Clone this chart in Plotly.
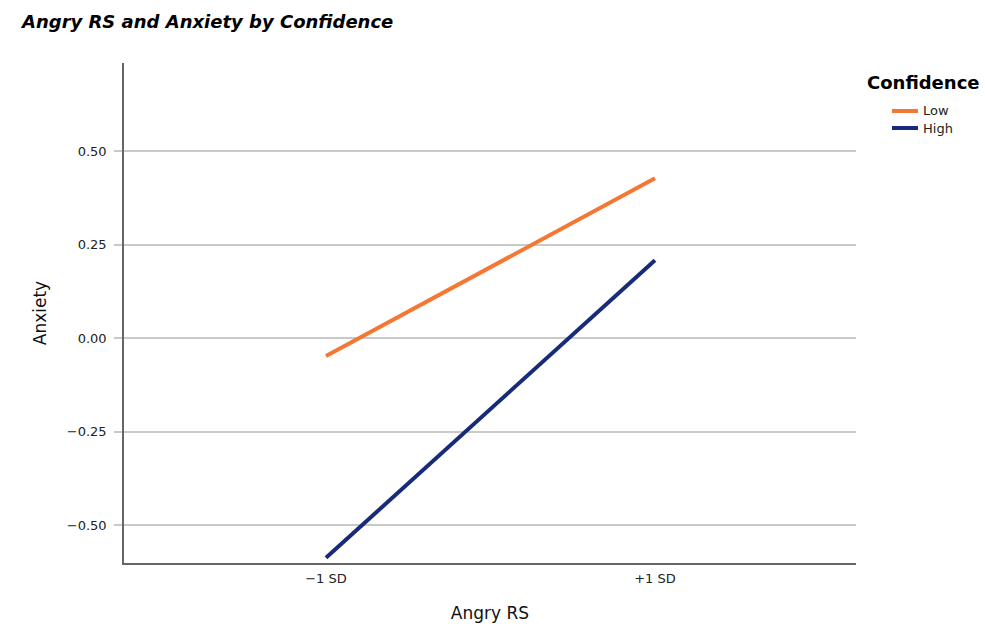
import plotly.graph_objects as go

# Simple slopes: Anxiety at low/high Angry RS for each Confidence group
x_positions = [0, 1]
x_labels = ["\u22121 SD", "+1 SD"]
groups = ["Low", "High"]
low_conf = [-0.048, 0.427]
high_conf = [-0.587, 0.208]
colors = {"Low": "#F47733", "High": "#172B78"}
y_ticks = [-0.50, -0.25, 0.00, 0.25, 0.50]

FONT = "DejaVu Sans"
W, H = 985, 627
L, R, T, B = 124, 129, 63, 64
PW, PH = W - L - R, H - T - B


def px_x(px):
    return (px - L) / PW


def px_y(py):
    return (H - B - py) / PH


fig = go.Figure()
for name, vals in zip(groups, [low_conf, high_conf]):
    fig.add_trace(go.Scatter(
        x=x_positions, y=vals, mode="lines", name=name,
        line=dict(color=colors[name], width=4),
        showlegend=False,
    ))

# Legend block: title plus one short line swatch and label per group
annotations = [dict(
    text="<b>Confidence</b>", showarrow=False,
    x=px_x(865), y=px_y(82), xref="paper", yref="paper",
    xanchor="left", yanchor="middle",
    font=dict(family=FONT, size=18, color="#000000"),
)]
shapes = []
for i, name in enumerate(groups):
    yc = px_y(111 + 17 * i)
    shapes.append(dict(
        type="line", xref="paper", yref="paper",
        x0=px_x(892), x1=px_x(918), y0=yc, y1=yc,
        line=dict(color=colors[name], width=4),
    ))
    annotations.append(dict(
        text=name, showarrow=False,
        x=px_x(921), y=yc, xref="paper", yref="paper",
        xanchor="left", yanchor="middle",
        font=dict(family=FONT, size=13, color="#222222"),
    ))

fig.update_layout(
    width=W, height=H,
    margin=dict(l=L, r=R, t=T, b=B),
    paper_bgcolor="white", plot_bgcolor="white",
    font=dict(family=FONT, color="#222222", size=13),
    title=dict(
        text="<b><i>Angry RS and Anxiety by Confidence</i></b>",
        x=22 / W, xanchor="left", y=1 - 22 / H, yanchor="middle",
        font=dict(family=FONT, size=18, color="#000000"),
    ),
    showlegend=False,
    annotations=annotations,
    shapes=shapes,
)

fig.update_xaxes(
    range=[-0.614, 1.611], automargin=False,
    tickvals=x_positions, ticktext=x_labels,
    showgrid=False, zeroline=False,
    showline=True, linecolor="#666666", linewidth=1.5,
    ticks="", ticklabelstandoff=3,
    tickfont=dict(size=13, color="#222222"),
    title=dict(text="Angry RS", font=dict(size=17, color="#111111"), standoff=22),
)
fig.update_yaxes(
    range=[-0.601, 0.735], automargin=False,
    tickvals=y_ticks, tickformat=".2f",
    showgrid=True, gridcolor="#C9C9C9", gridwidth=1.5,
    zeroline=False,
    showline=True, linecolor="#666666", linewidth=1.5,
    ticks="outside", ticklen=8, tickcolor="#C9C9C9", tickwidth=1.5,
    ticklabelstandoff=5,
    tickfont=dict(size=13, color="#222222"),
    title=dict(text="Anxiety", font=dict(size=17, color="#111111"), standoff=16),
)

fig.write_html("out.html")
